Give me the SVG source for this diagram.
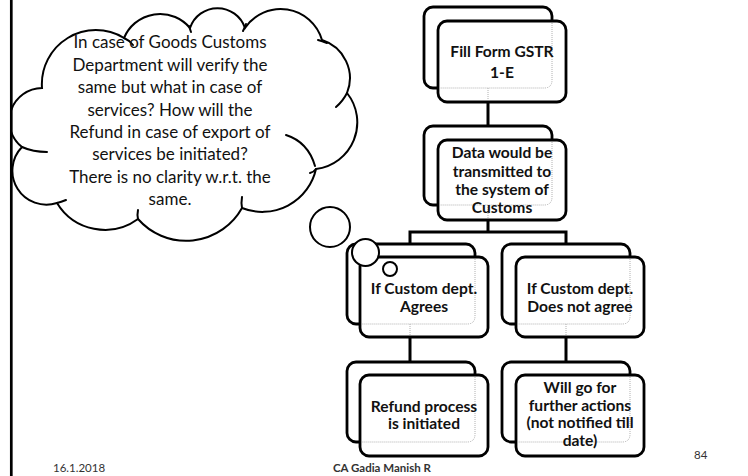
<svg xmlns="http://www.w3.org/2000/svg" width="748" height="476" viewBox="0 0 748 476">
  <style>
    .back { fill: #fff; stroke: #000; stroke-width: 2.8; }
    .front { fill: #fff; stroke: #000; stroke-width: 2.8; }
    .hidden { fill: none; stroke: #b0b0b0; stroke-width: 1; stroke-dasharray: 1 1; }
    .lbl { font-family: Lato, "Liberation Sans", sans-serif; font-weight: bold; font-size: 15.6px; fill: #111; text-anchor: middle; }
    .conn { fill: none; stroke: #000; stroke-width: 3; stroke-linejoin: miter; }
    .cloud { fill: #fff; stroke: #000; stroke-width: 2; }
    .tick { fill: none; stroke: #000; stroke-width: 2; stroke-linecap: round; }
    .ctext { font-family: Lato, "Liberation Sans", sans-serif; font-size: 17px; fill: #111; text-anchor: middle; }
    .foot { font-family: Lato, "Liberation Sans", sans-serif; font-size: 11.5px; fill: #333; }
  </style>
  <defs>
    <clipPath id="slide">
      <rect x="11" y="0" width="737" height="476"/>
    </clipPath>
  </defs>

  <rect width="748" height="476" fill="#fff"/>

  <!-- connectors -->
  <g id="connectors">
    <path class="conn" d="M488,102 V126"/>
    <path class="conn" d="M488,220 V232"/>
    <path class="conn" d="M410,244 V232 H566 V244"/>
    <path class="conn" d="M410,337 V362"/>
    <path class="conn" d="M566,337 V362"/>
  </g>

  <!-- flow nodes: back card + front card -->
  <g id="node-fill-form">
    <rect class="back" x="424" y="7" width="128" height="81" rx="9"/>
    <rect class="front" x="438" y="21" width="128" height="81" rx="9"/>
    <path class="hidden" d="M552,23 V80 Q552,88 544,88 H440 M488,88 V100"/>
    <text class="lbl" x="502" y="57">Fill Form GSTR</text>
    <text class="lbl" x="502" y="78">1-E</text>
  </g>

  <g id="node-data-transmitted">
    <rect class="back" x="424" y="126" width="128" height="79" rx="9"/>
    <rect class="front" x="438" y="140" width="128" height="80" rx="9"/>
    <path class="hidden" d="M552,142 V197 Q552,205 544,205 H440 M488,205 V218"/>
    <text class="lbl" x="502" y="158">Data would be</text>
    <text class="lbl" x="502" y="177">transmitted to</text>
    <text class="lbl" x="502" y="195">the system of</text>
    <text class="lbl" x="502" y="213">Customs</text>
  </g>

  <g id="node-agrees">
    <rect class="back" x="347" y="244" width="128" height="80" rx="9"/>
    <rect class="front" x="360" y="257" width="128" height="80" rx="9"/>
    <path class="hidden" d="M475,259 V316 Q475,324 467,324 H362 M410,324 V335"/>
    <text class="lbl" x="424" y="294">If Custom dept.</text>
    <text class="lbl" x="424" y="312">Agrees</text>
  </g>

  <g id="node-not-agree">
    <rect class="back" x="502" y="244" width="128" height="80" rx="9"/>
    <rect class="front" x="516" y="257" width="128" height="80" rx="9"/>
    <path class="hidden" d="M630,259 V316 Q630,324 622,324 H518 M566,324 V335"/>
    <text class="lbl" x="580" y="294">If Custom dept.</text>
    <text class="lbl" x="580" y="312">Does not agree</text>
  </g>

  <g id="node-refund">
    <rect class="back" x="347" y="362" width="128" height="80" rx="9"/>
    <rect class="front" x="360" y="375" width="128" height="81" rx="9"/>
    <path class="hidden" d="M475,377 V434 Q475,442 467,442 H362"/>
    <text class="lbl" x="424" y="412">Refund process</text>
    <text class="lbl" x="424" y="429">is initiated</text>
  </g>

  <g id="node-further-actions">
    <rect class="back" x="502" y="362" width="128" height="80" rx="9"/>
    <rect class="front" x="516" y="375" width="128" height="81" rx="9"/>
    <path class="hidden" d="M630,377 V434 Q630,442 622,442 H518"/>
    <text class="lbl" x="580" y="393">Will go for</text>
    <text class="lbl" x="580" y="411">further actions</text>
    <text class="lbl" x="580" y="428">(not notified till</text>
    <text class="lbl" x="580" y="446">date)</text>
  </g>

  <!-- thought cloud callout -->
  <g id="cloud-note" clip-path="url(#slide)">
    <path class="cloud" d="M42,88
      A54,54 0 0 1 124,38
      A39,39 0 0 1 190,28
      A29,29 0 0 1 245,28
      A43,43 0 0 1 322,40
      A40,40 0 0 1 347,93
      A47,47 0 0 1 316,169
      A55,55 0 0 1 242,208
      A64,64 0 0 1 138,219
      A56,56 0 0 1 57,203
      A34,34 0 0 1 22,147
      A33,33 0 0 1 42,88 Z"/>
    <path class="tick" d="M22,147 Q33,152 47,152"/>
    <path class="tick" d="M124,38 Q129,40 133,45"/>
    <path class="tick" d="M189,26 Q190,29 191,32"/>
    <path class="tick" d="M246,24 Q245,27 243,31"/>
    <path class="tick" d="M318,40 Q322,41 327,43"/>
    <path class="tick" d="M347,93 Q343,101 336,107"/>
    <path class="tick" d="M316,169 Q314,172 310,173"/>
    <path class="tick" d="M286,135 Q308,142 315,166"/>
    <path class="tick" d="M242,208 Q241,203 242,197"/>
    <path class="tick" d="M138,219 Q137,215 138,210"/>
    <path class="tick" d="M57,203 Q61,202 66,200"/>
    <circle class="cloud" cx="330" cy="227" r="20"/>
    <text class="ctext" x="170" y="48">In case of Goods Customs</text>
    <text class="ctext" x="170" y="71">Department will verify the</text>
    <text class="ctext" x="170" y="93">same but what in case of</text>
    <text class="ctext" x="170" y="116">services? How will the</text>
    <text class="ctext" x="170" y="138">Refund in case of export of</text>
    <text class="ctext" x="170" y="160">services be initiated?</text>
    <text class="ctext" x="170" y="183">There is no clarity w.r.t. the</text>
    <text class="ctext" x="170" y="205">same.</text>
  </g>
  <g id="cloud-trail">
    <circle class="cloud" cx="365.5" cy="252.5" r="13.5"/>
    <circle class="cloud" cx="390" cy="269" r="7"/>
  </g>

  <!-- slide edge and footer -->
  <line x1="11.3" y1="0" x2="11.3" y2="476" stroke="#000" stroke-width="2.7"/>
  <text class="foot" x="53" y="472">16.1.2018</text>
  <text class="foot" x="333" y="472" font-weight="bold">CA Gadia Manish R</text>
  <text class="foot" x="694" y="459" font-size="11">84</text>
</svg>
